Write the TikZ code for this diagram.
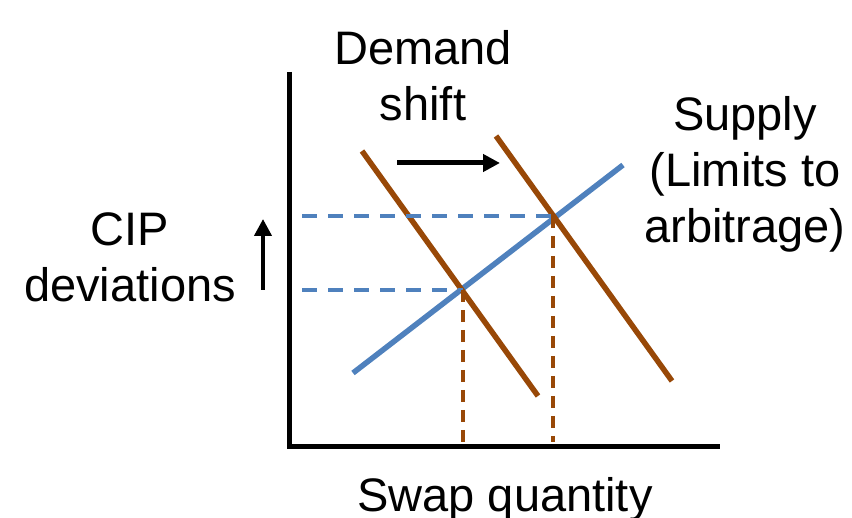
\documentclass[tikz,border=0pt]{standalone}
\usepackage{fontspec}
\setmainfont{Liberation Sans}
\usetikzlibrary{arrows.meta}
\definecolor{DemandBrown}{HTML}{984807}
\definecolor{SupplyBlue}{HTML}{4F81BD}

\begin{document}
\begin{tikzpicture}[x=1pt,y=-1pt,
      lbl/.style={align=center,font=\fontsize{47}{56}\selectfont,inner sep=0pt},
      axis/.style={line width=5pt,line join=miter},
      demand/.style={DemandBrown,line width=5.5pt},
      supply/.style={SupplyBlue,line width=5.5pt},
      hguide/.style={SupplyBlue,line width=3.5pt,dash pattern=on 15pt off 11pt},
      vguide/.style={DemandBrown,line width=3.5pt,dash pattern=on 12pt off 8pt},
      move/.style={-{Triangle[length=17pt,width=17pt]},line width=5pt}]
    \useasboundingbox (0,0) rectangle (852,518);
    % axes
    \coordinate (ytop) at (289,72);
    \coordinate (origin) at (289,447);
    \coordinate (xend) at (720,447);
    \draw[axis] (ytop) -- (origin) -- (xend);
    % curves
    \coordinate (s0) at (353,373);  \coordinate (s1) at (623,165);
    \coordinate (d0) at (362,151);  \coordinate (d1) at (538,396);
    \coordinate (e0) at (496,136);  \coordinate (e1) at (672,381);
    \draw[supply] (s0) -- (s1);
    \draw[demand] (d0) -- (d1);
    \draw[demand] (e0) -- (e1);
    % equilibria and guides
    \coordinate (eqlo) at (463,290);
    \coordinate (eqhi) at (553,216);
    \coordinate (ylo) at (302,290);  \coordinate (yhi) at (302,216);
    \coordinate (xlo) at (463,447);  \coordinate (xhi) at (553,442);
    \draw[hguide] (ylo) -- (eqlo);
    \draw[hguide] (yhi) -- (eqhi);
    \draw[vguide] (eqlo) -- (xlo);
    \draw[vguide] (eqhi) -- (xhi);
    % shift arrows
    \coordinate (sh0) at (397,163);  \coordinate (sh1) at (500,163);
    \coordinate (up0) at (263,290);  \coordinate (up1) at (263,219);
    \draw[move] (sh0) -- (sh1);
    \draw[move,line width=4pt] (up0) -- (up1);
    % labels
    \node[lbl] (shiftlbl) at (423,76) {Demand\\shift};
    \node[lbl] (supplylbl) at (745,174) {Supply\\(Limits to\\arbitrage)};
    \node[lbl] (ylbl) at (130,257) {CIP\\deviations};
    \node[lbl,anchor=base] (xlbl) at (505,512) {Swap quantity};
  \end{tikzpicture}
\end{document}
